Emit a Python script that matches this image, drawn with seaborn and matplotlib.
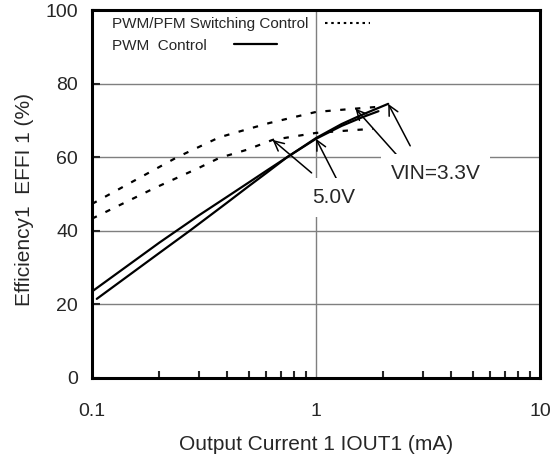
import matplotlib
matplotlib.use("Agg")
import matplotlib.pyplot as plt
from matplotlib.lines import Line2D
from matplotlib.ticker import LogLocator, NullFormatter, FixedLocator
import seaborn as sns

# PWM control (solid)
pwm_33_x = [0.1, 0.2, 0.3, 0.4, 0.5, 0.6, 0.743, 1.0, 1.3, 1.6, 2.1]
pwm_33_y = [23.5, 36.8, 44.2, 49.2, 53.1, 56.3, 60.0, 65.2, 69.0, 71.5, 74.5]
pwm_50_x = [0.105, 0.2, 0.273, 0.4, 0.5, 0.6, 0.743, 1.0, 1.3, 1.6, 1.9]
pwm_50_y = [21.5, 34.0, 40.0, 47.6, 52.1, 55.7, 60.0, 65.0, 68.5, 70.8, 72.5]

# PWM/PFM switching control (dashed)
pfm_33_x = [0.1, 0.15, 0.24, 0.37, 0.5, 0.62, 1.0, 1.5, 2.0]
pfm_33_y = [47.3, 53.2, 60.0, 65.4, 67.7, 69.3, 72.3, 73.2, 73.8]
pfm_50_x = [0.1, 0.19, 0.3, 0.37, 0.49, 0.64, 1.0, 1.5, 1.8]
pfm_50_y = [43.3, 51.6, 57.1, 59.8, 62.0, 64.7, 66.6, 67.4, 67.7]

x_ticks = [0.1, 1, 10]
x_ticklabels = ["0.1", "1", "10"]
y_ticks = [0, 20, 40, 60, 80, 100]

legend_labels = ["PWM/PFM Switching Control", "PWM  Control"]


def makePlot(outputName):
    sns.set_style("white")
    plt.rcParams["font.family"] = ["Liberation Sans", "DejaVu Sans"]

    fig = plt.figure(figsize=(5.55, 4.59), dpi=100)
    ax = fig.add_axes([0.1658, 0.1765, 0.8072, 0.8017])

    dash = (2.4, 4.3)
    sns.lineplot(x=pfm_33_x, y=pfm_33_y, color="black", lw=1.6,
                 ax=ax, sort=False)
    ax.get_lines()[-1].set_dashes(dash)
    sns.lineplot(x=pfm_50_x, y=pfm_50_y, color="black", lw=1.6,
                 ax=ax, sort=False)
    ax.get_lines()[-1].set_dashes(dash)
    sns.lineplot(x=pwm_33_x, y=pwm_33_y, color="black", lw=1.6,
                 ax=ax, sort=False)
    sns.lineplot(x=pwm_50_x, y=pwm_50_y, color="black", lw=1.6,
                 ax=ax, sort=False)

    ax.set_xscale("log")
    ax.set_xlim(0.1, 10)
    ax.set_ylim(0, 100)
    ax.xaxis.set_major_locator(FixedLocator(x_ticks))
    ax.set_xticklabels(x_ticklabels)
    ax.xaxis.set_minor_locator(LogLocator(base=10, subs=range(2, 10)))
    ax.xaxis.set_minor_formatter(NullFormatter())
    ax.set_yticks(y_ticks)

    ax.grid(True, which="major", color="#7f7f7f", lw=1.0)
    for s in ax.spines.values():
        s.set_linewidth(2.2)
        s.set_color("black")

    ax.tick_params(axis="x", which="major", direction="in", length=5,
                   width=1.5, pad=18, labelsize=14)
    ax.tick_params(axis="x", which="minor", direction="in", length=5,
                   width=1.5, bottom=True)
    ax.tick_params(axis="y", direction="in", length=6, width=1.5,
                   pad=10, labelsize=14, left=True)

    ax.set_xlabel("Output Current 1 IOUT1 (mA)", fontsize=15, labelpad=11)
    ax.set_ylabel("Efficiency1  EFFI 1 (%)", fontsize=15)
    ax.yaxis.set_label_coords(-0.129, 0.484)

    # legend: label text followed by a sample line
    ax.text(0.0446, 0.962, legend_labels[0], transform=ax.transAxes,
            fontsize=11, ha="left", va="center")
    ax.text(0.0446, 0.9035, legend_labels[1], transform=ax.transAxes,
            fontsize=11, ha="left", va="center")
    ax.add_line(Line2D([0.52, 0.62], [0.965, 0.965], transform=ax.transAxes,
                       color="black", lw=1.5, dashes=(1.2, 1.8)))
    ax.add_line(Line2D([0.318, 0.413], [0.9076, 0.9076],
                       transform=ax.transAxes, color="black", lw=1.6))

    arrow = dict(arrowstyle="->,head_length=0.7,head_width=0.35",
                 color="black", lw=1.1, shrinkA=0, shrinkB=0)
    # 5.0V
    ax.annotate("", xy=(pfm_50_x[5], pfm_50_y[5]), xytext=(39, -33),
                textcoords="offset pixels", arrowprops=arrow)
    ax.annotate("", xy=(pwm_50_x[7], pwm_50_y[7]), xytext=(21, -41),
                textcoords="offset pixels", arrowprops=arrow)
    # VIN=3.3V
    ax.annotate("", xy=(pfm_33_x[7], pfm_33_y[7]), xytext=(41, -46),
                textcoords="offset pixels", arrowprops=arrow)
    ax.annotate("", xy=(pwm_33_x[-1], pwm_33_y[-1]), xytext=(22, -42),
                textcoords="offset pixels", arrowprops=arrow)

    box = dict(fc="white", ec="none", pad=7)
    ax.text(1.2, 49.0, "5.0V", fontsize=15, ha="center", va="center",
            bbox=box, zorder=3)
    ax.text(3.41, 55.6, "VIN=3.3V", fontsize=15, ha="center", va="center",
            bbox=box, zorder=3)

    fig.savefig(outputName, dpi=100)
    plt.close(fig)


if __name__ == "__main__":
    makePlot("out.png")
